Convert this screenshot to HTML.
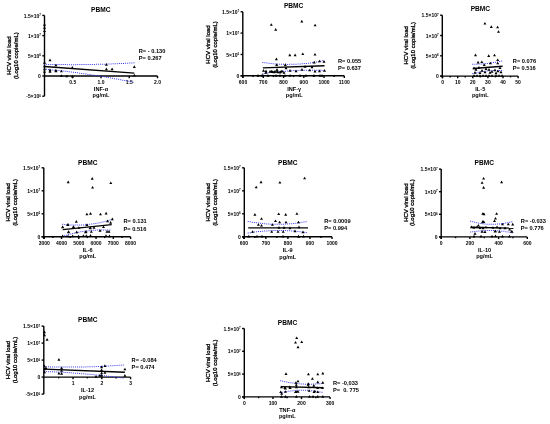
<!DOCTYPE html>
<html><head><meta charset="utf-8"><style>
html,body{margin:0;padding:0;background:#fff;}
svg{display:block;will-change:transform;}
text{font-family:"Liberation Sans", sans-serif;fill:#000;}
</style></head><body>
<svg width="550" height="424" viewBox="0 0 550 424">
<rect width="550" height="424" fill="#fff"/>
<g stroke="#000" stroke-width="1.4" fill="none"><line x1="44.5" y1="15.40" x2="44.5" y2="96.20" /><line x1="42.3" y1="96.20" x2="44.5" y2="96.20" /><line x1="42.3" y1="76.00" x2="44.5" y2="76.00" /><line x1="42.3" y1="55.80" x2="44.5" y2="55.80" /><line x1="42.3" y1="35.60" x2="44.5" y2="35.60" /><line x1="42.3" y1="15.40" x2="44.5" y2="15.40" /><line x1="44.5" y1="76.0" x2="157.50" y2="76.0" /><line x1="72.75" y1="76.0" x2="72.75" y2="78.20" /><line x1="101.00" y1="76.0" x2="101.00" y2="78.20" /><line x1="129.25" y1="76.0" x2="129.25" y2="78.20" /><line x1="157.50" y1="76.0" x2="157.50" y2="78.20" /></g>
<text x="40.90" y="98.30" text-anchor="end" font-size="5.0" font-weight="bold">-5×10<tspan dy="-1.6" font-size="3">6</tspan></text><text x="40.90" y="78.10" text-anchor="end" font-size="5.0" font-weight="bold">0</text><text x="40.90" y="57.90" text-anchor="end" font-size="5.0" font-weight="bold">5×10<tspan dy="-1.6" font-size="3">6</tspan></text><text x="40.90" y="37.70" text-anchor="end" font-size="5.0" font-weight="bold">1×10<tspan dy="-1.6" font-size="3">7</tspan></text><text x="40.90" y="17.50" text-anchor="end" font-size="5.0" font-weight="bold">1.5×10<tspan dy="-1.6" font-size="3">7</tspan></text><text x="72.75" y="84.00" text-anchor="middle" font-size="5.0" font-weight="bold">0.5</text><text x="101.00" y="84.00" text-anchor="middle" font-size="5.0" font-weight="bold">1.0</text><text x="129.25" y="84.00" text-anchor="middle" font-size="5.0" font-weight="bold">1.5</text><text x="157.50" y="84.00" text-anchor="middle" font-size="5.0" font-weight="bold">2.0</text>
<text x="100.7" y="11.6" text-anchor="middle" font-size="6.6" font-weight="bold">PBMC</text>
<text transform="translate(11.4,55.6) rotate(-90)" text-anchor="middle" font-size="6.0" stroke="#000" stroke-width="0.3">HCV viral load</text>
<text transform="translate(18.0,55.6) rotate(-90)" text-anchor="middle" font-size="6.0" stroke="#000" stroke-width="0.3">(Log10 copie/mL)</text>
<text x="101.0" y="91.0" text-anchor="middle" font-size="5.6" font-weight="bold">INF-α</text>
<text x="101.0" y="97.1" text-anchor="middle" font-size="5.6" font-weight="bold">pg/mL</text>
<text x="138.7" y="52.9" font-size="5.7" font-weight="bold">R= - 0.130</text>
<text x="138.7" y="60.2" font-size="5.7" font-weight="bold">P= 0.267</text>
<path fill="#3535ee" d="M44.00,63.79h1.0v1.0h-1.0zM46.08,63.83h1.0v1.0h-1.0zM48.16,63.88h1.0v1.0h-1.0zM50.24,63.93h1.0v1.0h-1.0zM52.32,63.97h1.0v1.0h-1.0zM54.40,64.00h1.0v1.0h-1.0zM56.48,64.03h1.0v1.0h-1.0zM58.56,64.06h1.0v1.0h-1.0zM60.64,64.08h1.0v1.0h-1.0zM62.72,64.10h1.0v1.0h-1.0zM64.80,64.12h1.0v1.0h-1.0zM66.88,64.13h1.0v1.0h-1.0zM68.96,64.13h1.0v1.0h-1.0zM71.04,64.14h1.0v1.0h-1.0zM73.12,64.14h1.0v1.0h-1.0zM75.20,64.13h1.0v1.0h-1.0zM77.28,64.12h1.0v1.0h-1.0zM79.36,64.11h1.0v1.0h-1.0zM81.44,64.09h1.0v1.0h-1.0zM83.52,64.07h1.0v1.0h-1.0zM85.60,64.04h1.0v1.0h-1.0zM87.68,64.01h1.0v1.0h-1.0zM89.76,63.98h1.0v1.0h-1.0zM91.84,63.94h1.0v1.0h-1.0zM93.92,63.90h1.0v1.0h-1.0zM95.99,63.85h1.0v1.0h-1.0zM98.07,63.80h1.0v1.0h-1.0zM100.15,63.75h1.0v1.0h-1.0zM102.23,63.69h1.0v1.0h-1.0zM104.31,63.63h1.0v1.0h-1.0zM106.39,63.56h1.0v1.0h-1.0zM108.47,63.49h1.0v1.0h-1.0zM110.55,63.42h1.0v1.0h-1.0zM112.63,63.34h1.0v1.0h-1.0zM114.70,63.26h1.0v1.0h-1.0zM116.78,63.17h1.0v1.0h-1.0zM118.86,63.08h1.0v1.0h-1.0zM120.94,62.98h1.0v1.0h-1.0zM123.02,62.88h1.0v1.0h-1.0zM125.09,62.78h1.0v1.0h-1.0zM127.17,62.68h1.0v1.0h-1.0zM129.25,62.57h1.0v1.0h-1.0zM131.33,62.45h1.0v1.0h-1.0zM133.40,62.33h1.0v1.0h-1.0z"/>
<path fill="#3535ee" d="M44.00,68.65h1.0v1.0h-1.0zM46.07,68.84h1.0v1.0h-1.0zM48.14,69.04h1.0v1.0h-1.0zM50.21,69.25h1.0v1.0h-1.0zM52.28,69.45h1.0v1.0h-1.0zM54.35,69.67h1.0v1.0h-1.0zM56.42,69.89h1.0v1.0h-1.0zM58.49,70.11h1.0v1.0h-1.0zM60.55,70.34h1.0v1.0h-1.0zM62.62,70.58h1.0v1.0h-1.0zM64.69,70.82h1.0v1.0h-1.0zM66.75,71.06h1.0v1.0h-1.0zM68.82,71.31h1.0v1.0h-1.0zM70.88,71.57h1.0v1.0h-1.0zM72.94,71.83h1.0v1.0h-1.0zM75.01,72.10h1.0v1.0h-1.0zM77.07,72.37h1.0v1.0h-1.0zM79.13,72.64h1.0v1.0h-1.0zM81.19,72.93h1.0v1.0h-1.0zM83.25,73.21h1.0v1.0h-1.0zM85.31,73.51h1.0v1.0h-1.0zM87.37,73.80h1.0v1.0h-1.0zM89.43,74.10h1.0v1.0h-1.0zM91.48,74.41h1.0v1.0h-1.0zM93.54,74.72h1.0v1.0h-1.0zM95.60,75.04h1.0v1.0h-1.0zM97.65,75.36h1.0v1.0h-1.0zM99.71,75.70h1.0v1.0h-1.0zM101.76,76.03h1.0v1.0h-1.0zM103.81,76.37h1.0v1.0h-1.0zM105.86,76.71h1.0v1.0h-1.0zM107.91,77.06h1.0v1.0h-1.0zM109.96,77.41h1.0v1.0h-1.0zM112.01,77.77h1.0v1.0h-1.0zM114.06,78.13h1.0v1.0h-1.0zM116.11,78.50h1.0v1.0h-1.0zM118.15,78.87h1.0v1.0h-1.0zM120.20,79.25h1.0v1.0h-1.0zM122.24,79.64h1.0v1.0h-1.0zM124.29,80.02h1.0v1.0h-1.0zM126.33,80.42h1.0v1.0h-1.0zM128.37,80.82h1.0v1.0h-1.0zM130.41,81.22h1.0v1.0h-1.0zM132.45,81.63h1.0v1.0h-1.0z"/>
<line x1="44.5" y1="66.5" x2="134.3" y2="73.1" stroke="#000" stroke-width="1.4"/>
<path fill="#000" d="M43.00,25.67h3.00l-1.50,-2.60zM43.00,28.87h3.00l-1.50,-2.60zM43.00,32.07h3.00l-1.50,-2.60zM43.00,63.67h3.00l-1.50,-2.60zM43.00,67.17h3.00l-1.50,-2.60zM43.00,70.17h3.00l-1.50,-2.60zM43.00,72.67h3.00l-1.50,-2.60zM48.50,61.17h3.00l-1.50,-2.60zM48.50,71.17h3.00l-1.50,-2.60zM48.50,72.67h3.00l-1.50,-2.60zM54.40,66.37h3.00l-1.50,-2.60zM54.40,71.47h3.00l-1.50,-2.60zM54.40,72.17h3.00l-1.50,-2.60zM59.90,72.27h3.00l-1.50,-2.60zM59.90,76.97h3.00l-1.50,-2.60zM65.30,77.27h3.00l-1.50,-2.60zM70.80,68.67h3.00l-1.50,-2.60zM70.80,77.47h3.00l-1.50,-2.60zM104.90,65.67h3.00l-1.50,-2.60zM104.90,70.17h3.00l-1.50,-2.60zM110.60,70.17h3.00l-1.50,-2.60zM132.80,67.97h3.00l-1.50,-2.60zM132.80,76.47h3.00l-1.50,-2.60z"/>
<g stroke="#000" stroke-width="1.4" fill="none"><line x1="242.8" y1="11.75" x2="242.8" y2="78.00" /><line x1="240.60000000000002" y1="75.80" x2="242.8" y2="75.80" /><line x1="240.60000000000002" y1="54.45" x2="242.8" y2="54.45" /><line x1="240.60000000000002" y1="33.10" x2="242.8" y2="33.10" /><line x1="240.60000000000002" y1="11.75" x2="242.8" y2="11.75" /><line x1="240.60000000000002" y1="75.8" x2="344.30" y2="75.8" /><line x1="243.00" y1="75.8" x2="243.00" y2="78.00" /><line x1="263.26" y1="75.8" x2="263.26" y2="78.00" /><line x1="283.52" y1="75.8" x2="283.52" y2="78.00" /><line x1="303.78" y1="75.8" x2="303.78" y2="78.00" /><line x1="324.04" y1="75.8" x2="324.04" y2="78.00" /><line x1="344.30" y1="75.8" x2="344.30" y2="78.00" /><line x1="253.13" y1="75.8" x2="253.13" y2="77.10" /><line x1="273.39" y1="75.8" x2="273.39" y2="77.10" /><line x1="293.65" y1="75.8" x2="293.65" y2="77.10" /><line x1="313.91" y1="75.8" x2="313.91" y2="77.10" /><line x1="334.17" y1="75.8" x2="334.17" y2="77.10" /></g>
<text x="239.20" y="77.90" text-anchor="end" font-size="5.0" font-weight="bold">0</text><text x="239.20" y="56.55" text-anchor="end" font-size="5.0" font-weight="bold">5×10<tspan dy="-1.6" font-size="3">6</tspan></text><text x="239.20" y="35.20" text-anchor="end" font-size="5.0" font-weight="bold">1×10<tspan dy="-1.6" font-size="3">7</tspan></text><text x="239.20" y="13.85" text-anchor="end" font-size="5.0" font-weight="bold">1.5×10<tspan dy="-1.6" font-size="3">7</tspan></text><text x="243.00" y="83.80" text-anchor="middle" font-size="5.0" font-weight="bold">600</text><text x="263.26" y="83.80" text-anchor="middle" font-size="5.0" font-weight="bold">700</text><text x="283.52" y="83.80" text-anchor="middle" font-size="5.0" font-weight="bold">800</text><text x="303.78" y="83.80" text-anchor="middle" font-size="5.0" font-weight="bold">900</text><text x="324.04" y="83.80" text-anchor="middle" font-size="5.0" font-weight="bold">1000</text><text x="344.30" y="83.80" text-anchor="middle" font-size="5.0" font-weight="bold">1100</text>
<text x="293.6" y="8.4" text-anchor="middle" font-size="6.6" font-weight="bold">PBMC</text>
<text transform="translate(209.5,44.5) rotate(-90)" text-anchor="middle" font-size="6.0" stroke="#000" stroke-width="0.3">HCV viral load</text>
<text transform="translate(217.2,44.5) rotate(-90)" text-anchor="middle" font-size="6.0" stroke="#000" stroke-width="0.3">(Log10 copie/mL)</text>
<text x="294.2" y="91.0" text-anchor="middle" font-size="5.6" font-weight="bold">INF-γ</text>
<text x="294.2" y="97.1" text-anchor="middle" font-size="5.6" font-weight="bold">pg/mL</text>
<text x="338.0" y="62.6" font-size="5.7" font-weight="bold">R= 0.055</text>
<text x="338.0" y="69.7" font-size="5.7" font-weight="bold">P= 0.637</text>
<path fill="#3535ee" d="M262.30,62.08h1.0v1.0h-1.0zM264.36,62.36h1.0v1.0h-1.0zM266.42,62.62h1.0v1.0h-1.0zM268.49,62.86h1.0v1.0h-1.0zM270.56,63.07h1.0v1.0h-1.0zM272.63,63.26h1.0v1.0h-1.0zM274.71,63.42h1.0v1.0h-1.0zM276.78,63.56h1.0v1.0h-1.0zM278.86,63.67h1.0v1.0h-1.0zM280.94,63.76h1.0v1.0h-1.0zM283.01,63.82h1.0v1.0h-1.0zM285.09,63.86h1.0v1.0h-1.0zM287.17,63.88h1.0v1.0h-1.0zM289.25,63.87h1.0v1.0h-1.0zM291.33,63.83h1.0v1.0h-1.0zM293.41,63.77h1.0v1.0h-1.0zM295.49,63.69h1.0v1.0h-1.0zM297.57,63.58h1.0v1.0h-1.0zM299.64,63.45h1.0v1.0h-1.0zM301.72,63.28h1.0v1.0h-1.0zM303.79,63.10h1.0v1.0h-1.0zM305.86,62.89h1.0v1.0h-1.0zM307.93,62.66h1.0v1.0h-1.0zM309.99,62.40h1.0v1.0h-1.0zM312.05,62.13h1.0v1.0h-1.0zM314.11,61.82h1.0v1.0h-1.0zM316.16,61.49h1.0v1.0h-1.0zM318.21,61.14h1.0v1.0h-1.0zM320.26,60.77h1.0v1.0h-1.0zM322.30,60.36h1.0v1.0h-1.0z"/>
<path fill="#3535ee" d="M262.30,73.19h1.0v1.0h-1.0zM264.36,72.90h1.0v1.0h-1.0zM266.42,72.62h1.0v1.0h-1.0zM268.48,72.34h1.0v1.0h-1.0zM270.55,72.09h1.0v1.0h-1.0zM272.61,71.85h1.0v1.0h-1.0zM274.68,71.61h1.0v1.0h-1.0zM276.75,71.39h1.0v1.0h-1.0zM278.82,71.19h1.0v1.0h-1.0zM280.89,70.99h1.0v1.0h-1.0zM282.96,70.82h1.0v1.0h-1.0zM285.03,70.65h1.0v1.0h-1.0zM287.11,70.49h1.0v1.0h-1.0zM289.18,70.36h1.0v1.0h-1.0zM291.26,70.23h1.0v1.0h-1.0zM293.34,70.11h1.0v1.0h-1.0zM295.41,70.02h1.0v1.0h-1.0zM297.49,69.93h1.0v1.0h-1.0zM299.57,69.85h1.0v1.0h-1.0zM301.65,69.80h1.0v1.0h-1.0zM303.73,69.75h1.0v1.0h-1.0zM305.81,69.71h1.0v1.0h-1.0zM307.89,69.69h1.0v1.0h-1.0zM309.97,69.69h1.0v1.0h-1.0zM312.05,69.69h1.0v1.0h-1.0zM314.13,69.71h1.0v1.0h-1.0zM316.21,69.75h1.0v1.0h-1.0zM318.29,69.79h1.0v1.0h-1.0zM320.37,69.85h1.0v1.0h-1.0zM322.45,69.93h1.0v1.0h-1.0z"/>
<line x1="262.8" y1="67.9" x2="324.5" y2="65.7" stroke="#000" stroke-width="1.4"/>
<path fill="#000" d="M269.80,25.87h3.00l-1.50,-2.60zM274.20,30.67h3.00l-1.50,-2.60zM300.30,22.47h3.00l-1.50,-2.60zM313.60,26.37h3.00l-1.50,-2.60zM288.30,56.17h3.00l-1.50,-2.60zM293.60,56.17h3.00l-1.50,-2.60zM301.30,55.07h3.00l-1.50,-2.60zM313.50,55.57h3.00l-1.50,-2.60zM274.90,60.17h3.00l-1.50,-2.60zM275.20,65.97h3.00l-1.50,-2.60zM283.80,65.97h3.00l-1.50,-2.60zM312.70,63.47h3.00l-1.50,-2.60zM318.00,62.27h3.00l-1.50,-2.60zM322.50,62.67h3.00l-1.50,-2.60zM262.00,71.67h3.00l-1.50,-2.60zM264.50,72.17h3.00l-1.50,-2.60zM269.90,72.47h3.00l-1.50,-2.60zM272.50,73.17h3.00l-1.50,-2.60zM275.50,72.67h3.00l-1.50,-2.60zM278.50,73.47h3.00l-1.50,-2.60zM280.50,72.17h3.00l-1.50,-2.60zM288.50,71.67h3.00l-1.50,-2.60zM294.50,72.17h3.00l-1.50,-2.60zM300.50,70.67h3.00l-1.50,-2.60zM308.20,71.27h3.00l-1.50,-2.60zM313.50,72.47h3.00l-1.50,-2.60zM318.00,72.17h3.00l-1.50,-2.60zM323.00,71.67h3.00l-1.50,-2.60zM310.50,68.17h3.00l-1.50,-2.60zM303.50,67.67h3.00l-1.50,-2.60zM284.50,69.17h3.00l-1.50,-2.60zM256.50,76.67h3.00l-1.50,-2.60zM260.50,76.67h3.00l-1.50,-2.60zM266.50,76.67h3.00l-1.50,-2.60zM274.50,76.67h3.00l-1.50,-2.60zM278.50,76.67h3.00l-1.50,-2.60zM283.50,76.67h3.00l-1.50,-2.60zM288.50,76.67h3.00l-1.50,-2.60zM298.50,76.67h3.00l-1.50,-2.60zM304.50,76.67h3.00l-1.50,-2.60zM312.50,76.67h3.00l-1.50,-2.60zM318.50,76.67h3.00l-1.50,-2.60zM320.50,76.67h3.00l-1.50,-2.60zM261.50,76.67h3.00l-1.50,-2.60zM268.50,72.67h3.00l-1.50,-2.60zM271.00,72.97h3.00l-1.50,-2.60zM273.50,72.67h3.00l-1.50,-2.60zM276.50,73.17h3.00l-1.50,-2.60zM279.50,72.77h3.00l-1.50,-2.60zM282.50,73.67h3.00l-1.50,-2.60zM264.50,73.67h3.00l-1.50,-2.60zM275.50,70.67h3.00l-1.50,-2.60z"/>
<g stroke="#000" stroke-width="1.4" fill="none"><line x1="442.3" y1="15.20" x2="442.3" y2="78.30" /><line x1="440.1" y1="76.10" x2="442.3" y2="76.10" /><line x1="440.1" y1="55.80" x2="442.3" y2="55.80" /><line x1="440.1" y1="35.50" x2="442.3" y2="35.50" /><line x1="440.1" y1="15.20" x2="442.3" y2="15.20" /><line x1="440.1" y1="76.1" x2="518.10" y2="76.1" /><line x1="442.60" y1="76.1" x2="442.60" y2="78.30" /><line x1="457.70" y1="76.1" x2="457.70" y2="78.30" /><line x1="472.80" y1="76.1" x2="472.80" y2="78.30" /><line x1="487.90" y1="76.1" x2="487.90" y2="78.30" /><line x1="503.00" y1="76.1" x2="503.00" y2="78.30" /><line x1="518.10" y1="76.1" x2="518.10" y2="78.30" /><line x1="450.15" y1="76.1" x2="450.15" y2="77.40" /><line x1="465.25" y1="76.1" x2="465.25" y2="77.40" /><line x1="480.35" y1="76.1" x2="480.35" y2="77.40" /><line x1="495.45" y1="76.1" x2="495.45" y2="77.40" /><line x1="510.55" y1="76.1" x2="510.55" y2="77.40" /></g>
<text x="438.70" y="78.20" text-anchor="end" font-size="5.0" font-weight="bold">0</text><text x="438.70" y="57.90" text-anchor="end" font-size="5.0" font-weight="bold">5×10<tspan dy="-1.6" font-size="3">6</tspan></text><text x="438.70" y="37.60" text-anchor="end" font-size="5.0" font-weight="bold">1×10<tspan dy="-1.6" font-size="3">7</tspan></text><text x="438.70" y="17.30" text-anchor="end" font-size="5.0" font-weight="bold">1.5×10<tspan dy="-1.6" font-size="3">7</tspan></text><text x="442.60" y="84.10" text-anchor="middle" font-size="5.0" font-weight="bold">0</text><text x="457.70" y="84.10" text-anchor="middle" font-size="5.0" font-weight="bold">10</text><text x="472.80" y="84.10" text-anchor="middle" font-size="5.0" font-weight="bold">20</text><text x="487.90" y="84.10" text-anchor="middle" font-size="5.0" font-weight="bold">30</text><text x="503.00" y="84.10" text-anchor="middle" font-size="5.0" font-weight="bold">40</text><text x="518.10" y="84.10" text-anchor="middle" font-size="5.0" font-weight="bold">50</text>
<text x="480.4" y="10.6" text-anchor="middle" font-size="6.6" font-weight="bold">PBMC</text>
<text transform="translate(407.8,45.3) rotate(-90)" text-anchor="middle" font-size="6.0" stroke="#000" stroke-width="0.3">HCV viral load</text>
<text transform="translate(415.2,45.3) rotate(-90)" text-anchor="middle" font-size="6.0" stroke="#000" stroke-width="0.3">(Log10 copie/mL)</text>
<text x="480.3" y="91.0" text-anchor="middle" font-size="5.6" font-weight="bold">IL-5</text>
<text x="480.3" y="97.3" text-anchor="middle" font-size="5.6" font-weight="bold">pg/mL</text>
<text x="512.8" y="62.7" font-size="5.7" font-weight="bold">R= 0.076</text>
<text x="512.8" y="69.5" font-size="5.7" font-weight="bold">P= 0.516</text>
<path fill="#3535ee" d="M472.30,63.70h1.0v1.0h-1.0zM474.38,63.70h1.0v1.0h-1.0zM476.46,63.67h1.0v1.0h-1.0zM478.54,63.60h1.0v1.0h-1.0zM480.62,63.49h1.0v1.0h-1.0zM482.69,63.35h1.0v1.0h-1.0zM484.76,63.17h1.0v1.0h-1.0zM486.83,62.96h1.0v1.0h-1.0zM488.90,62.72h1.0v1.0h-1.0zM490.96,62.43h1.0v1.0h-1.0zM493.01,62.12h1.0v1.0h-1.0zM495.06,61.77h1.0v1.0h-1.0zM497.11,61.38h1.0v1.0h-1.0zM499.15,60.97h1.0v1.0h-1.0zM501.18,60.51h1.0v1.0h-1.0z"/>
<path fill="#3535ee" d="M472.30,73.10h1.0v1.0h-1.0zM474.32,72.60h1.0v1.0h-1.0zM476.35,72.14h1.0v1.0h-1.0zM478.39,71.73h1.0v1.0h-1.0zM480.43,71.35h1.0v1.0h-1.0zM482.49,71.02h1.0v1.0h-1.0zM484.55,70.73h1.0v1.0h-1.0zM486.61,70.49h1.0v1.0h-1.0zM488.68,70.29h1.0v1.0h-1.0zM490.76,70.14h1.0v1.0h-1.0zM492.83,70.03h1.0v1.0h-1.0zM494.91,69.97h1.0v1.0h-1.0zM496.99,69.95h1.0v1.0h-1.0zM499.07,69.98h1.0v1.0h-1.0zM501.15,70.05h1.0v1.0h-1.0z"/>
<line x1="472.8" y1="68.5" x2="502.6" y2="66.2" stroke="#000" stroke-width="1.4"/>
<path fill="#000" d="M483.40,24.57h3.00l-1.50,-2.60zM489.80,27.97h3.00l-1.50,-2.60zM496.10,28.37h3.00l-1.50,-2.60zM497.00,32.77h3.00l-1.50,-2.60zM474.00,56.17h3.00l-1.50,-2.60zM487.20,56.97h3.00l-1.50,-2.60zM493.00,56.37h3.00l-1.50,-2.60zM476.60,63.47h3.00l-1.50,-2.60zM480.30,63.07h3.00l-1.50,-2.60zM482.70,65.97h3.00l-1.50,-2.60zM488.90,64.27h3.00l-1.50,-2.60zM496.20,61.07h3.00l-1.50,-2.60zM496.20,64.27h3.00l-1.50,-2.60zM472.50,69.17h3.00l-1.50,-2.60zM474.50,70.67h3.00l-1.50,-2.60zM477.50,68.67h3.00l-1.50,-2.60zM480.50,71.67h3.00l-1.50,-2.60zM484.50,69.97h3.00l-1.50,-2.60zM487.50,70.67h3.00l-1.50,-2.60zM490.50,72.67h3.00l-1.50,-2.60zM493.50,71.17h3.00l-1.50,-2.60zM496.50,72.17h3.00l-1.50,-2.60zM499.50,73.17h3.00l-1.50,-2.60zM498.50,68.97h3.00l-1.50,-2.60zM473.50,73.67h3.00l-1.50,-2.60zM478.50,73.97h3.00l-1.50,-2.60zM483.50,73.17h3.00l-1.50,-2.60zM488.50,73.67h3.00l-1.50,-2.60zM494.50,74.17h3.00l-1.50,-2.60zM472.50,76.77h3.00l-1.50,-2.60zM475.50,76.77h3.00l-1.50,-2.60zM478.50,76.77h3.00l-1.50,-2.60zM481.50,76.77h3.00l-1.50,-2.60zM484.50,76.77h3.00l-1.50,-2.60zM487.50,76.77h3.00l-1.50,-2.60zM490.50,76.77h3.00l-1.50,-2.60zM494.50,76.77h3.00l-1.50,-2.60zM497.50,76.77h3.00l-1.50,-2.60zM500.50,76.77h3.00l-1.50,-2.60z"/>
<g stroke="#000" stroke-width="1.4" fill="none"><line x1="43.8" y1="167.80" x2="43.8" y2="239.00" /><line x1="41.599999999999994" y1="236.80" x2="43.8" y2="236.80" /><line x1="41.599999999999994" y1="213.80" x2="43.8" y2="213.80" /><line x1="41.599999999999994" y1="190.80" x2="43.8" y2="190.80" /><line x1="41.599999999999994" y1="167.80" x2="43.8" y2="167.80" /><line x1="41.599999999999994" y1="236.8" x2="130.60" y2="236.8" /><line x1="44.20" y1="236.8" x2="44.20" y2="239.00" /><line x1="61.48" y1="236.8" x2="61.48" y2="239.00" /><line x1="78.76" y1="236.8" x2="78.76" y2="239.00" /><line x1="96.04" y1="236.8" x2="96.04" y2="239.00" /><line x1="113.32" y1="236.8" x2="113.32" y2="239.00" /><line x1="130.60" y1="236.8" x2="130.60" y2="239.00" /><line x1="52.84" y1="236.8" x2="52.84" y2="238.10" /><line x1="70.12" y1="236.8" x2="70.12" y2="238.10" /><line x1="87.40" y1="236.8" x2="87.40" y2="238.10" /><line x1="104.68" y1="236.8" x2="104.68" y2="238.10" /><line x1="121.96" y1="236.8" x2="121.96" y2="238.10" /></g>
<text x="40.20" y="238.90" text-anchor="end" font-size="5.0" font-weight="bold">0</text><text x="40.20" y="215.90" text-anchor="end" font-size="5.0" font-weight="bold">5×10<tspan dy="-1.6" font-size="3">6</tspan></text><text x="40.20" y="192.90" text-anchor="end" font-size="5.0" font-weight="bold">1×10<tspan dy="-1.6" font-size="3">7</tspan></text><text x="40.20" y="169.90" text-anchor="end" font-size="5.0" font-weight="bold">1.5×10<tspan dy="-1.6" font-size="3">7</tspan></text><text x="44.20" y="244.80" text-anchor="middle" font-size="5.0" font-weight="bold">3000</text><text x="61.48" y="244.80" text-anchor="middle" font-size="5.0" font-weight="bold">4000</text><text x="78.76" y="244.80" text-anchor="middle" font-size="5.0" font-weight="bold">5000</text><text x="96.04" y="244.80" text-anchor="middle" font-size="5.0" font-weight="bold">6000</text><text x="113.32" y="244.80" text-anchor="middle" font-size="5.0" font-weight="bold">7000</text><text x="130.60" y="244.80" text-anchor="middle" font-size="5.0" font-weight="bold">8000</text>
<text x="87.7" y="164.9" text-anchor="middle" font-size="6.6" font-weight="bold">PBMC</text>
<text transform="translate(10.4,202.3) rotate(-90)" text-anchor="middle" font-size="6.0" stroke="#000" stroke-width="0.3">HCV viral load</text>
<text transform="translate(17.3,202.3) rotate(-90)" text-anchor="middle" font-size="6.0" stroke="#000" stroke-width="0.3">(Log10 copie/mL)</text>
<text x="87.7" y="252.4" text-anchor="middle" font-size="5.6" font-weight="bold">IL-6</text>
<text x="87.7" y="258.3" text-anchor="middle" font-size="5.6" font-weight="bold">pg/mL</text>
<text x="123.5" y="222.9" font-size="5.7" font-weight="bold">R= 0.131</text>
<text x="123.5" y="230.9" font-size="5.7" font-weight="bold">P= 0.516</text>
<path fill="#3535ee" d="M62.20,223.80h1.0v1.0h-1.0zM64.27,224.03h1.0v1.0h-1.0zM66.34,224.22h1.0v1.0h-1.0zM68.41,224.38h1.0v1.0h-1.0zM70.49,224.49h1.0v1.0h-1.0zM72.57,224.58h1.0v1.0h-1.0zM74.65,224.62h1.0v1.0h-1.0zM76.73,224.62h1.0v1.0h-1.0zM78.81,224.59h1.0v1.0h-1.0zM80.89,224.51h1.0v1.0h-1.0zM82.96,224.40h1.0v1.0h-1.0zM85.04,224.25h1.0v1.0h-1.0zM87.11,224.07h1.0v1.0h-1.0zM89.18,223.85h1.0v1.0h-1.0zM91.24,223.58h1.0v1.0h-1.0zM93.30,223.28h1.0v1.0h-1.0zM95.35,222.94h1.0v1.0h-1.0zM97.40,222.57h1.0v1.0h-1.0zM99.44,222.17h1.0v1.0h-1.0zM101.47,221.73h1.0v1.0h-1.0zM103.49,221.25h1.0v1.0h-1.0zM105.51,220.73h1.0v1.0h-1.0zM107.52,220.19h1.0v1.0h-1.0zM109.51,219.61h1.0v1.0h-1.0z"/>
<path fill="#3535ee" d="M62.20,235.90h1.0v1.0h-1.0zM64.19,235.28h1.0v1.0h-1.0zM66.18,234.69h1.0v1.0h-1.0zM68.18,234.12h1.0v1.0h-1.0zM70.19,233.58h1.0v1.0h-1.0zM72.21,233.08h1.0v1.0h-1.0zM74.23,232.60h1.0v1.0h-1.0zM76.27,232.16h1.0v1.0h-1.0zM78.30,231.75h1.0v1.0h-1.0zM80.35,231.37h1.0v1.0h-1.0zM82.40,231.02h1.0v1.0h-1.0zM84.46,230.71h1.0v1.0h-1.0zM86.52,230.43h1.0v1.0h-1.0zM88.58,230.18h1.0v1.0h-1.0zM90.65,229.97h1.0v1.0h-1.0zM92.72,229.79h1.0v1.0h-1.0zM94.80,229.64h1.0v1.0h-1.0zM96.87,229.53h1.0v1.0h-1.0zM98.95,229.45h1.0v1.0h-1.0zM101.03,229.41h1.0v1.0h-1.0zM103.11,229.41h1.0v1.0h-1.0zM105.19,229.43h1.0v1.0h-1.0zM107.27,229.50h1.0v1.0h-1.0zM109.35,229.59h1.0v1.0h-1.0z"/>
<line x1="62.7" y1="229.6" x2="111.7" y2="224.6" stroke="#000" stroke-width="1.4"/>
<path fill="#000" d="M66.70,183.17h3.00l-1.50,-2.60zM90.70,179.67h3.00l-1.50,-2.60zM91.10,188.57h3.00l-1.50,-2.60zM109.30,184.07h3.00l-1.50,-2.60zM85.40,215.37h3.00l-1.50,-2.60zM89.00,214.67h3.00l-1.50,-2.60zM99.00,215.37h3.00l-1.50,-2.60zM104.60,214.47h3.00l-1.50,-2.60zM74.80,222.67h3.00l-1.50,-2.60zM66.50,225.67h3.00l-1.50,-2.60zM110.80,220.17h3.00l-1.50,-2.60zM106.10,222.17h3.00l-1.50,-2.60zM109.10,223.67h3.00l-1.50,-2.60zM61.20,228.07h3.00l-1.50,-2.60zM71.80,228.07h3.00l-1.50,-2.60zM102.00,228.07h3.00l-1.50,-2.60zM88.50,229.17h3.00l-1.50,-2.60zM92.50,228.67h3.00l-1.50,-2.60zM98.50,231.67h3.00l-1.50,-2.60zM84.50,232.67h3.00l-1.50,-2.60zM105.50,232.67h3.00l-1.50,-2.60zM107.50,232.67h3.00l-1.50,-2.60zM67.10,232.77h3.00l-1.50,-2.60zM61.00,228.17h3.00l-1.50,-2.60zM66.10,225.97h3.00l-1.50,-2.60zM72.00,227.77h3.00l-1.50,-2.60zM75.20,233.17h3.00l-1.50,-2.60zM66.90,233.17h3.00l-1.50,-2.60zM77.40,228.87h3.00l-1.50,-2.60zM85.40,225.97h3.00l-1.50,-2.60zM84.00,233.17h3.00l-1.50,-2.60zM89.00,229.17h3.00l-1.50,-2.60zM89.80,232.87h3.00l-1.50,-2.60zM61.20,237.17h3.00l-1.50,-2.60zM66.50,237.37h3.00l-1.50,-2.60zM71.20,237.17h3.00l-1.50,-2.60zM77.10,237.37h3.00l-1.50,-2.60zM81.90,236.97h3.00l-1.50,-2.60zM84.80,236.97h3.00l-1.50,-2.60zM89.00,236.67h3.00l-1.50,-2.60zM104.50,236.97h3.00l-1.50,-2.60zM108.00,237.17h3.00l-1.50,-2.60z"/>
<g stroke="#000" stroke-width="1.4" fill="none"><line x1="244.3" y1="167.80" x2="244.3" y2="239.00" /><line x1="242.10000000000002" y1="236.80" x2="244.3" y2="236.80" /><line x1="242.10000000000002" y1="213.80" x2="244.3" y2="213.80" /><line x1="242.10000000000002" y1="190.80" x2="244.3" y2="190.80" /><line x1="242.10000000000002" y1="167.80" x2="244.3" y2="167.80" /><line x1="242.10000000000002" y1="236.8" x2="332.00" y2="236.8" /><line x1="243.80" y1="236.8" x2="243.80" y2="239.00" /><line x1="265.85" y1="236.8" x2="265.85" y2="239.00" /><line x1="287.90" y1="236.8" x2="287.90" y2="239.00" /><line x1="309.95" y1="236.8" x2="309.95" y2="239.00" /><line x1="332.00" y1="236.8" x2="332.00" y2="239.00" /><line x1="254.83" y1="236.8" x2="254.83" y2="238.10" /><line x1="276.88" y1="236.8" x2="276.88" y2="238.10" /><line x1="298.93" y1="236.8" x2="298.93" y2="238.10" /><line x1="320.98" y1="236.8" x2="320.98" y2="238.10" /></g>
<text x="240.70" y="238.90" text-anchor="end" font-size="5.0" font-weight="bold">0</text><text x="240.70" y="215.90" text-anchor="end" font-size="5.0" font-weight="bold">5×10<tspan dy="-1.6" font-size="3">6</tspan></text><text x="240.70" y="192.90" text-anchor="end" font-size="5.0" font-weight="bold">1×10<tspan dy="-1.6" font-size="3">7</tspan></text><text x="240.70" y="169.90" text-anchor="end" font-size="5.0" font-weight="bold">1.5×10<tspan dy="-1.6" font-size="3">7</tspan></text><text x="243.80" y="244.80" text-anchor="middle" font-size="5.0" font-weight="bold">600</text><text x="265.85" y="244.80" text-anchor="middle" font-size="5.0" font-weight="bold">700</text><text x="287.90" y="244.80" text-anchor="middle" font-size="5.0" font-weight="bold">800</text><text x="309.95" y="244.80" text-anchor="middle" font-size="5.0" font-weight="bold">900</text><text x="332.00" y="244.80" text-anchor="middle" font-size="5.0" font-weight="bold">1000</text>
<text x="287.7" y="164.9" text-anchor="middle" font-size="6.6" font-weight="bold">PBMC</text>
<text transform="translate(209.6,202.3) rotate(-90)" text-anchor="middle" font-size="6.0" stroke="#000" stroke-width="0.3">HCV viral load</text>
<text transform="translate(217.0,202.3) rotate(-90)" text-anchor="middle" font-size="6.0" stroke="#000" stroke-width="0.3">(Log10 copie/mL)</text>
<text x="287.7" y="251.5" text-anchor="middle" font-size="5.6" font-weight="bold">IL-9</text>
<text x="287.7" y="258.8" text-anchor="middle" font-size="5.6" font-weight="bold">pg/mL</text>
<text x="324.2" y="222.6" font-size="5.7" font-weight="bold">R= 0.0009</text>
<text x="324.2" y="229.7" font-size="5.7" font-weight="bold">P= 0.994</text>
<path fill="#3535ee" d="M247.70,221.00h1.0v1.0h-1.0zM249.75,221.37h1.0v1.0h-1.0zM251.80,221.72h1.0v1.0h-1.0zM253.85,222.05h1.0v1.0h-1.0zM255.91,222.34h1.0v1.0h-1.0zM257.97,222.61h1.0v1.0h-1.0zM260.04,222.86h1.0v1.0h-1.0zM262.11,223.07h1.0v1.0h-1.0zM264.18,223.25h1.0v1.0h-1.0zM266.25,223.42h1.0v1.0h-1.0zM268.33,223.55h1.0v1.0h-1.0zM270.41,223.65h1.0v1.0h-1.0zM272.48,223.73h1.0v1.0h-1.0zM274.56,223.78h1.0v1.0h-1.0zM276.64,223.80h1.0v1.0h-1.0zM278.72,223.79h1.0v1.0h-1.0zM280.80,223.76h1.0v1.0h-1.0zM282.88,223.69h1.0v1.0h-1.0zM284.96,223.59h1.0v1.0h-1.0zM287.04,223.48h1.0v1.0h-1.0zM289.11,223.33h1.0v1.0h-1.0zM291.18,223.15h1.0v1.0h-1.0zM293.25,222.95h1.0v1.0h-1.0zM295.32,222.72h1.0v1.0h-1.0zM297.38,222.46h1.0v1.0h-1.0zM299.44,222.17h1.0v1.0h-1.0zM301.50,221.87h1.0v1.0h-1.0zM303.55,221.52h1.0v1.0h-1.0zM305.60,221.16h1.0v1.0h-1.0z"/>
<path fill="#3535ee" d="M247.70,232.50h1.0v1.0h-1.0zM249.76,232.18h1.0v1.0h-1.0zM251.81,231.88h1.0v1.0h-1.0zM253.87,231.60h1.0v1.0h-1.0zM255.94,231.34h1.0v1.0h-1.0zM258.01,231.11h1.0v1.0h-1.0zM260.07,230.89h1.0v1.0h-1.0zM262.14,230.70h1.0v1.0h-1.0zM264.22,230.53h1.0v1.0h-1.0zM266.29,230.39h1.0v1.0h-1.0zM268.37,230.26h1.0v1.0h-1.0zM270.45,230.17h1.0v1.0h-1.0zM272.53,230.09h1.0v1.0h-1.0zM274.60,230.03h1.0v1.0h-1.0zM276.68,230.00h1.0v1.0h-1.0zM278.76,229.99h1.0v1.0h-1.0zM280.84,230.00h1.0v1.0h-1.0zM282.92,230.04h1.0v1.0h-1.0zM285.00,230.10h1.0v1.0h-1.0zM287.08,230.18h1.0v1.0h-1.0zM289.16,230.29h1.0v1.0h-1.0zM291.23,230.42h1.0v1.0h-1.0zM293.31,230.57h1.0v1.0h-1.0zM295.38,230.74h1.0v1.0h-1.0zM297.45,230.94h1.0v1.0h-1.0zM299.52,231.15h1.0v1.0h-1.0zM301.59,231.39h1.0v1.0h-1.0zM303.65,231.66h1.0v1.0h-1.0zM305.71,231.94h1.0v1.0h-1.0z"/>
<line x1="248.2" y1="227.9" x2="308" y2="227.9" stroke="#000" stroke-width="1.4"/>
<path fill="#000" d="M254.70,188.27h3.00l-1.50,-2.60zM259.50,183.17h3.00l-1.50,-2.60zM278.40,183.57h3.00l-1.50,-2.60zM303.10,179.37h3.00l-1.50,-2.60zM253.40,215.67h3.00l-1.50,-2.60zM277.20,215.07h3.00l-1.50,-2.60zM284.20,215.67h3.00l-1.50,-2.60zM295.40,214.87h3.00l-1.50,-2.60zM260.00,219.87h3.00l-1.50,-2.60zM274.00,222.07h3.00l-1.50,-2.60zM278.10,223.37h3.00l-1.50,-2.60zM284.50,223.37h3.00l-1.50,-2.60zM297.00,223.37h3.00l-1.50,-2.60zM256.90,225.87h3.00l-1.50,-2.60zM260.00,226.57h3.00l-1.50,-2.60zM270.90,225.87h3.00l-1.50,-2.60zM277.50,228.67h3.00l-1.50,-2.60zM282.50,228.67h3.00l-1.50,-2.60zM288.50,229.17h3.00l-1.50,-2.60zM297.50,228.17h3.00l-1.50,-2.60zM251.10,232.87h3.00l-1.50,-2.60zM270.20,232.87h3.00l-1.50,-2.60zM276.50,232.87h3.00l-1.50,-2.60zM281.70,232.87h3.00l-1.50,-2.60zM293.50,232.17h3.00l-1.50,-2.60zM301.50,233.17h3.00l-1.50,-2.60zM247.30,237.47h3.00l-1.50,-2.60zM255.50,237.47h3.00l-1.50,-2.60zM260.50,237.47h3.00l-1.50,-2.60zM281.50,237.47h3.00l-1.50,-2.60zM297.00,237.47h3.00l-1.50,-2.60zM302.00,237.47h3.00l-1.50,-2.60z"/>
<g stroke="#000" stroke-width="1.4" fill="none"><line x1="441.2" y1="169.10" x2="441.2" y2="239.10" /><line x1="439.0" y1="236.90" x2="441.2" y2="236.90" /><line x1="439.0" y1="214.30" x2="441.2" y2="214.30" /><line x1="439.0" y1="191.70" x2="441.2" y2="191.70" /><line x1="439.0" y1="169.10" x2="441.2" y2="169.10" /><line x1="439.0" y1="236.9" x2="527.30" y2="236.9" /><line x1="441.20" y1="236.9" x2="441.20" y2="239.10" /><line x1="469.90" y1="236.9" x2="469.90" y2="239.10" /><line x1="498.60" y1="236.9" x2="498.60" y2="239.10" /><line x1="527.30" y1="236.9" x2="527.30" y2="239.10" /><line x1="455.55" y1="236.9" x2="455.55" y2="238.20" /><line x1="484.25" y1="236.9" x2="484.25" y2="238.20" /><line x1="512.95" y1="236.9" x2="512.95" y2="238.20" /></g>
<text x="437.60" y="239.00" text-anchor="end" font-size="5.0" font-weight="bold">0</text><text x="437.60" y="216.40" text-anchor="end" font-size="5.0" font-weight="bold">5×10<tspan dy="-1.6" font-size="3">6</tspan></text><text x="437.60" y="193.80" text-anchor="end" font-size="5.0" font-weight="bold">1×10<tspan dy="-1.6" font-size="3">7</tspan></text><text x="437.60" y="171.20" text-anchor="end" font-size="5.0" font-weight="bold">1.5×10<tspan dy="-1.6" font-size="3">7</tspan></text><text x="441.20" y="244.90" text-anchor="middle" font-size="5.0" font-weight="bold">0</text><text x="469.90" y="244.90" text-anchor="middle" font-size="5.0" font-weight="bold">200</text><text x="498.60" y="244.90" text-anchor="middle" font-size="5.0" font-weight="bold">400</text><text x="527.30" y="244.90" text-anchor="middle" font-size="5.0" font-weight="bold">600</text>
<text x="484.3" y="164.9" text-anchor="middle" font-size="6.6" font-weight="bold">PBMC</text>
<text transform="translate(408.3,202.7) rotate(-90)" text-anchor="middle" font-size="6.0" stroke="#000" stroke-width="0.3">HCV viral load</text>
<text transform="translate(413.9,202.7) rotate(-90)" text-anchor="middle" font-size="6.0" stroke="#000" stroke-width="0.3">(Log10 copie/mL)</text>
<text x="484.6" y="252.4" text-anchor="middle" font-size="5.6" font-weight="bold">IL-10</text>
<text x="484.6" y="258.3" text-anchor="middle" font-size="5.6" font-weight="bold">pg/mL</text>
<text x="520.8" y="222.9" font-size="5.7" font-weight="bold">R= -0.033</text>
<text x="520.8" y="229.9" font-size="5.7" font-weight="bold">P= 0.776</text>
<path fill="#3535ee" d="M470.20,220.80h1.0v1.0h-1.0zM472.21,221.34h1.0v1.0h-1.0zM474.23,221.83h1.0v1.0h-1.0zM476.26,222.27h1.0v1.0h-1.0zM478.31,222.65h1.0v1.0h-1.0zM480.36,222.98h1.0v1.0h-1.0zM482.42,223.26h1.0v1.0h-1.0zM484.49,223.48h1.0v1.0h-1.0zM486.56,223.64h1.0v1.0h-1.0zM488.64,223.75h1.0v1.0h-1.0zM490.72,223.80h1.0v1.0h-1.0zM492.80,223.80h1.0v1.0h-1.0zM494.88,223.74h1.0v1.0h-1.0zM496.96,223.62h1.0v1.0h-1.0zM499.03,223.44h1.0v1.0h-1.0zM501.09,223.21h1.0v1.0h-1.0zM503.15,222.92h1.0v1.0h-1.0zM505.21,222.57h1.0v1.0h-1.0zM507.25,222.18h1.0v1.0h-1.0zM509.28,221.73h1.0v1.0h-1.0zM511.30,221.23h1.0v1.0h-1.0z"/>
<path fill="#3535ee" d="M470.20,231.50h1.0v1.0h-1.0zM472.26,231.19h1.0v1.0h-1.0zM474.32,230.92h1.0v1.0h-1.0zM476.38,230.68h1.0v1.0h-1.0zM478.45,230.47h1.0v1.0h-1.0zM480.53,230.31h1.0v1.0h-1.0zM482.60,230.18h1.0v1.0h-1.0zM484.68,230.08h1.0v1.0h-1.0zM486.76,230.02h1.0v1.0h-1.0zM488.84,230.00h1.0v1.0h-1.0zM490.92,230.01h1.0v1.0h-1.0zM493.00,230.07h1.0v1.0h-1.0zM495.08,230.15h1.0v1.0h-1.0zM497.15,230.28h1.0v1.0h-1.0zM499.23,230.44h1.0v1.0h-1.0zM501.30,230.63h1.0v1.0h-1.0zM503.37,230.87h1.0v1.0h-1.0zM505.43,231.13h1.0v1.0h-1.0zM507.49,231.44h1.0v1.0h-1.0zM509.54,231.77h1.0v1.0h-1.0zM511.58,232.15h1.0v1.0h-1.0z"/>
<line x1="470.7" y1="227.3" x2="513.4" y2="228.2" stroke="#000" stroke-width="1.4"/>
<path fill="#000" d="M482.10,179.57h3.00l-1.50,-2.60zM480.60,183.87h3.00l-1.50,-2.60zM482.10,188.67h3.00l-1.50,-2.60zM500.10,183.17h3.00l-1.50,-2.60zM481.30,214.87h3.00l-1.50,-2.60zM482.50,215.17h3.00l-1.50,-2.60zM495.10,214.87h3.00l-1.50,-2.60zM494.00,219.57h3.00l-1.50,-2.60zM493.00,222.07h3.00l-1.50,-2.60zM481.30,222.67h3.00l-1.50,-2.60zM482.30,222.97h3.00l-1.50,-2.60zM501.00,225.27h3.00l-1.50,-2.60zM506.80,225.27h3.00l-1.50,-2.60zM511.20,225.47h3.00l-1.50,-2.60zM476.90,226.57h3.00l-1.50,-2.60zM470.00,228.17h3.00l-1.50,-2.60zM472.50,228.67h3.00l-1.50,-2.60zM475.50,228.17h3.00l-1.50,-2.60zM478.50,228.97h3.00l-1.50,-2.60zM481.50,229.17h3.00l-1.50,-2.60zM484.50,228.37h3.00l-1.50,-2.60zM491.50,228.77h3.00l-1.50,-2.60zM495.50,228.17h3.00l-1.50,-2.60zM498.50,229.17h3.00l-1.50,-2.60zM503.50,229.17h3.00l-1.50,-2.60zM480.70,232.87h3.00l-1.50,-2.60zM494.00,232.27h3.00l-1.50,-2.60zM497.90,232.87h3.00l-1.50,-2.60zM510.60,232.87h3.00l-1.50,-2.60zM483.50,232.97h3.00l-1.50,-2.60zM480.90,223.27h3.00l-1.50,-2.60zM508.10,230.57h3.00l-1.50,-2.60zM510.00,232.67h3.00l-1.50,-2.60zM493.50,232.47h3.00l-1.50,-2.60zM480.50,232.67h3.00l-1.50,-2.60zM473.50,234.67h3.00l-1.50,-2.60zM472.50,237.47h3.00l-1.50,-2.60zM479.50,237.47h3.00l-1.50,-2.60zM490.50,237.47h3.00l-1.50,-2.60zM494.00,237.17h3.00l-1.50,-2.60zM501.00,237.47h3.00l-1.50,-2.60zM508.00,237.47h3.00l-1.50,-2.60z"/>
<g stroke="#000" stroke-width="1.4" fill="none"><line x1="43.8" y1="326.10" x2="43.8" y2="394.10" /><line x1="41.599999999999994" y1="394.10" x2="43.8" y2="394.10" /><line x1="41.599999999999994" y1="377.10" x2="43.8" y2="377.10" /><line x1="41.599999999999994" y1="360.10" x2="43.8" y2="360.10" /><line x1="41.599999999999994" y1="343.10" x2="43.8" y2="343.10" /><line x1="41.599999999999994" y1="326.10" x2="43.8" y2="326.10" /><line x1="43.8" y1="377.1" x2="130.55" y2="377.1" /><line x1="73.05" y1="377.1" x2="73.05" y2="379.30" /><line x1="101.80" y1="377.1" x2="101.80" y2="379.30" /><line x1="130.55" y1="377.1" x2="130.55" y2="379.30" /><line x1="58.67" y1="377.1" x2="58.67" y2="378.40" /><line x1="87.42" y1="377.1" x2="87.42" y2="378.40" /><line x1="116.17" y1="377.1" x2="116.17" y2="378.40" /></g>
<text x="40.20" y="396.20" text-anchor="end" font-size="5.0" font-weight="bold">-5×10<tspan dy="-1.6" font-size="3">6</tspan></text><text x="40.20" y="379.20" text-anchor="end" font-size="5.0" font-weight="bold">0</text><text x="40.20" y="362.20" text-anchor="end" font-size="5.0" font-weight="bold">5×10<tspan dy="-1.6" font-size="3">6</tspan></text><text x="40.20" y="345.20" text-anchor="end" font-size="5.0" font-weight="bold">1×10<tspan dy="-1.6" font-size="3">7</tspan></text><text x="40.20" y="328.20" text-anchor="end" font-size="5.0" font-weight="bold">1.5×10<tspan dy="-1.6" font-size="3">7</tspan></text><text x="73.05" y="385.10" text-anchor="middle" font-size="5.0" font-weight="bold">1</text><text x="101.80" y="385.10" text-anchor="middle" font-size="5.0" font-weight="bold">2</text><text x="130.55" y="385.10" text-anchor="middle" font-size="5.0" font-weight="bold">3</text>
<text x="87.7" y="321.9" text-anchor="middle" font-size="6.6" font-weight="bold">PBMC</text>
<text transform="translate(10.1,360.0) rotate(-90)" text-anchor="middle" font-size="6.0" stroke="#000" stroke-width="0.3">HCV viral load</text>
<text transform="translate(17.0,360.0) rotate(-90)" text-anchor="middle" font-size="6.0" stroke="#000" stroke-width="0.3">(Log10 copie/mL)</text>
<text x="87.5" y="391.6" text-anchor="middle" font-size="5.6" font-weight="bold">IL-12</text>
<text x="87.5" y="398.5" text-anchor="middle" font-size="5.6" font-weight="bold">pg/mL</text>
<text x="131.6" y="362.0" font-size="5.7" font-weight="bold">R= -0.084</text>
<text x="131.6" y="368.9" font-size="5.7" font-weight="bold">P= 0.474</text>
<path fill="#3535ee" d="M43.80,366.20h1.0v1.0h-1.0zM45.88,366.26h1.0v1.0h-1.0zM47.96,366.32h1.0v1.0h-1.0zM50.04,366.38h1.0v1.0h-1.0zM52.12,366.43h1.0v1.0h-1.0zM54.20,366.46h1.0v1.0h-1.0zM56.28,366.50h1.0v1.0h-1.0zM58.36,366.53h1.0v1.0h-1.0zM60.44,366.56h1.0v1.0h-1.0zM62.52,366.57h1.0v1.0h-1.0zM64.60,366.59h1.0v1.0h-1.0zM66.68,366.59h1.0v1.0h-1.0zM68.76,366.59h1.0v1.0h-1.0zM70.84,366.59h1.0v1.0h-1.0zM72.92,366.57h1.0v1.0h-1.0zM75.00,366.56h1.0v1.0h-1.0zM77.08,366.53h1.0v1.0h-1.0zM79.16,366.50h1.0v1.0h-1.0zM81.23,366.47h1.0v1.0h-1.0zM83.31,366.43h1.0v1.0h-1.0zM85.39,366.38h1.0v1.0h-1.0zM87.47,366.33h1.0v1.0h-1.0zM89.55,366.27h1.0v1.0h-1.0zM91.63,366.20h1.0v1.0h-1.0zM93.71,366.13h1.0v1.0h-1.0zM95.79,366.06h1.0v1.0h-1.0zM97.87,365.97h1.0v1.0h-1.0zM99.95,365.89h1.0v1.0h-1.0zM102.02,365.79h1.0v1.0h-1.0zM104.10,365.69h1.0v1.0h-1.0zM106.18,365.58h1.0v1.0h-1.0zM108.26,365.47h1.0v1.0h-1.0zM110.33,365.35h1.0v1.0h-1.0zM112.41,365.23h1.0v1.0h-1.0zM114.48,365.10h1.0v1.0h-1.0zM116.56,364.97h1.0v1.0h-1.0zM118.63,364.82h1.0v1.0h-1.0zM120.71,364.68h1.0v1.0h-1.0zM122.78,364.52h1.0v1.0h-1.0z"/>
<path fill="#3535ee" d="M43.80,371.00h1.0v1.0h-1.0zM45.88,371.07h1.0v1.0h-1.0zM47.96,371.15h1.0v1.0h-1.0zM50.04,371.24h1.0v1.0h-1.0zM52.11,371.32h1.0v1.0h-1.0zM54.19,371.42h1.0v1.0h-1.0zM56.27,371.52h1.0v1.0h-1.0zM58.35,371.62h1.0v1.0h-1.0zM60.42,371.73h1.0v1.0h-1.0zM62.50,371.85h1.0v1.0h-1.0zM64.58,371.97h1.0v1.0h-1.0zM66.65,372.10h1.0v1.0h-1.0zM68.73,372.23h1.0v1.0h-1.0zM70.80,372.37h1.0v1.0h-1.0zM72.88,372.51h1.0v1.0h-1.0zM74.95,372.66h1.0v1.0h-1.0zM77.03,372.81h1.0v1.0h-1.0zM79.10,372.97h1.0v1.0h-1.0zM81.18,373.14h1.0v1.0h-1.0zM83.25,373.31h1.0v1.0h-1.0zM85.32,373.48h1.0v1.0h-1.0zM87.39,373.66h1.0v1.0h-1.0zM89.46,373.85h1.0v1.0h-1.0zM91.54,374.04h1.0v1.0h-1.0zM93.61,374.24h1.0v1.0h-1.0zM95.68,374.44h1.0v1.0h-1.0zM97.75,374.65h1.0v1.0h-1.0zM99.82,374.86h1.0v1.0h-1.0zM101.88,375.08h1.0v1.0h-1.0zM103.95,375.30h1.0v1.0h-1.0zM106.02,375.53h1.0v1.0h-1.0zM108.09,375.76h1.0v1.0h-1.0zM110.15,376.00h1.0v1.0h-1.0zM112.22,376.25h1.0v1.0h-1.0zM114.28,376.50h1.0v1.0h-1.0zM116.35,376.75h1.0v1.0h-1.0zM118.41,377.02h1.0v1.0h-1.0zM120.47,377.28h1.0v1.0h-1.0zM122.54,377.55h1.0v1.0h-1.0z"/>
<line x1="44.3" y1="369.1" x2="124.9" y2="372.2" stroke="#000" stroke-width="1.4"/>
<path fill="#000" d="M43.00,333.17h3.00l-1.50,-2.60zM43.00,336.17h3.00l-1.50,-2.60zM45.60,340.67h3.00l-1.50,-2.60zM57.40,360.67h3.00l-1.50,-2.60zM57.40,374.47h3.00l-1.50,-2.60zM60.10,369.17h3.00l-1.50,-2.60zM60.10,371.67h3.00l-1.50,-2.60zM60.10,374.67h3.00l-1.50,-2.60zM43.00,367.17h3.00l-1.50,-2.60zM43.00,370.17h3.00l-1.50,-2.60zM43.00,373.17h3.00l-1.50,-2.60zM44.50,369.17h3.00l-1.50,-2.60zM100.10,368.17h3.00l-1.50,-2.60zM100.10,371.17h3.00l-1.50,-2.60zM100.10,374.17h3.00l-1.50,-2.60zM100.10,376.67h3.00l-1.50,-2.60zM103.40,366.97h3.00l-1.50,-2.60zM103.40,373.87h3.00l-1.50,-2.60zM123.40,370.27h3.00l-1.50,-2.60zM123.40,376.67h3.00l-1.50,-2.60zM98.30,376.67h3.00l-1.50,-2.60zM94.50,377.67h3.00l-1.50,-2.60z"/>
<g stroke="#000" stroke-width="1.4" fill="none"><line x1="244.3" y1="328.50" x2="244.3" y2="399.10" /><line x1="242.10000000000002" y1="396.90" x2="244.3" y2="396.90" /><line x1="242.10000000000002" y1="374.10" x2="244.3" y2="374.10" /><line x1="242.10000000000002" y1="351.30" x2="244.3" y2="351.30" /><line x1="242.10000000000002" y1="328.50" x2="244.3" y2="328.50" /><line x1="242.10000000000002" y1="396.9" x2="330.05" y2="396.9" /><line x1="244.40" y1="396.9" x2="244.40" y2="399.10" /><line x1="272.95" y1="396.9" x2="272.95" y2="399.10" /><line x1="301.50" y1="396.9" x2="301.50" y2="399.10" /><line x1="330.05" y1="396.9" x2="330.05" y2="399.10" /><line x1="258.68" y1="396.9" x2="258.68" y2="398.20" /><line x1="287.23" y1="396.9" x2="287.23" y2="398.20" /><line x1="315.77" y1="396.9" x2="315.77" y2="398.20" /></g>
<text x="240.70" y="399.00" text-anchor="end" font-size="5.0" font-weight="bold">0</text><text x="240.70" y="376.20" text-anchor="end" font-size="5.0" font-weight="bold">5×10<tspan dy="-1.6" font-size="3">6</tspan></text><text x="240.70" y="353.40" text-anchor="end" font-size="5.0" font-weight="bold">1×10<tspan dy="-1.6" font-size="3">7</tspan></text><text x="240.70" y="330.60" text-anchor="end" font-size="5.0" font-weight="bold">1.5×10<tspan dy="-1.6" font-size="3">7</tspan></text><text x="244.40" y="404.90" text-anchor="middle" font-size="5.0" font-weight="bold">0</text><text x="272.95" y="404.90" text-anchor="middle" font-size="5.0" font-weight="bold">100</text><text x="301.50" y="404.90" text-anchor="middle" font-size="5.0" font-weight="bold">200</text><text x="330.05" y="404.90" text-anchor="middle" font-size="5.0" font-weight="bold">300</text>
<text x="287.5" y="324.7" text-anchor="middle" font-size="6.6" font-weight="bold">PBMC</text>
<text transform="translate(209.9,362.8) rotate(-90)" text-anchor="middle" font-size="6.0" stroke="#000" stroke-width="0.3">HCV viral load</text>
<text transform="translate(216.8,362.8) rotate(-90)" text-anchor="middle" font-size="6.0" stroke="#000" stroke-width="0.3">(Log10 copie/mL)</text>
<text x="287.3" y="411.7" text-anchor="middle" font-size="5.6" font-weight="bold">TNF-α</text>
<text x="287.3" y="418.3" text-anchor="middle" font-size="5.6" font-weight="bold">pg/mL</text>
<text x="332.9" y="384.7" font-size="5.7" font-weight="bold">R= -0,033</text>
<text x="332.9" y="391.5" font-size="5.7" font-weight="bold">P=  0. 775</text>
<path fill="#3535ee" d="M280.20,380.20h1.0v1.0h-1.0zM282.22,380.69h1.0v1.0h-1.0zM284.25,381.14h1.0v1.0h-1.0zM286.29,381.56h1.0v1.0h-1.0zM288.33,381.94h1.0v1.0h-1.0zM290.38,382.29h1.0v1.0h-1.0zM292.44,382.60h1.0v1.0h-1.0zM294.50,382.87h1.0v1.0h-1.0zM296.57,383.10h1.0v1.0h-1.0zM298.64,383.30h1.0v1.0h-1.0zM300.72,383.46h1.0v1.0h-1.0zM302.79,383.57h1.0v1.0h-1.0zM304.87,383.66h1.0v1.0h-1.0zM306.95,383.70h1.0v1.0h-1.0zM309.03,383.70h1.0v1.0h-1.0zM311.11,383.66h1.0v1.0h-1.0zM313.19,383.59h1.0v1.0h-1.0zM315.26,383.47h1.0v1.0h-1.0zM317.34,383.32h1.0v1.0h-1.0zM319.41,383.13h1.0v1.0h-1.0zM321.48,382.90h1.0v1.0h-1.0z"/>
<path fill="#3535ee" d="M280.20,392.20h1.0v1.0h-1.0zM282.23,391.75h1.0v1.0h-1.0zM284.27,391.35h1.0v1.0h-1.0zM286.32,390.98h1.0v1.0h-1.0zM288.37,390.67h1.0v1.0h-1.0zM290.44,390.39h1.0v1.0h-1.0zM292.50,390.16h1.0v1.0h-1.0zM294.58,389.98h1.0v1.0h-1.0zM296.65,389.85h1.0v1.0h-1.0zM298.73,389.76h1.0v1.0h-1.0zM300.81,389.72h1.0v1.0h-1.0zM302.89,389.72h1.0v1.0h-1.0zM304.97,389.77h1.0v1.0h-1.0zM307.05,389.87h1.0v1.0h-1.0zM309.12,390.02h1.0v1.0h-1.0zM311.19,390.21h1.0v1.0h-1.0zM313.26,390.44h1.0v1.0h-1.0zM315.32,390.72h1.0v1.0h-1.0zM317.37,391.05h1.0v1.0h-1.0zM319.42,391.42h1.0v1.0h-1.0zM321.46,391.84h1.0v1.0h-1.0z"/>
<line x1="280.7" y1="386.6" x2="323.6" y2="387.8" stroke="#000" stroke-width="1.4"/>
<path fill="#000" d="M295.20,339.07h3.00l-1.50,-2.60zM294.00,343.57h3.00l-1.50,-2.60zM300.20,343.07h3.00l-1.50,-2.60zM296.50,348.17h3.00l-1.50,-2.60zM284.50,374.97h3.00l-1.50,-2.60zM306.90,375.37h3.00l-1.50,-2.60zM316.30,375.37h3.00l-1.50,-2.60zM321.30,374.47h3.00l-1.50,-2.60zM310.90,379.87h3.00l-1.50,-2.60zM296.50,382.37h3.00l-1.50,-2.60zM316.30,383.17h3.00l-1.50,-2.60zM321.30,383.67h3.00l-1.50,-2.60zM306.80,384.87h3.00l-1.50,-2.60zM280.00,388.17h3.00l-1.50,-2.60zM283.30,388.97h3.00l-1.50,-2.60zM288.30,388.17h3.00l-1.50,-2.60zM294.90,388.17h3.00l-1.50,-2.60zM307.30,388.17h3.00l-1.50,-2.60zM294.00,393.07h3.00l-1.50,-2.60zM296.50,392.67h3.00l-1.50,-2.60zM312.50,393.07h3.00l-1.50,-2.60zM316.30,393.07h3.00l-1.50,-2.60zM279.20,393.07h3.00l-1.50,-2.60zM284.00,389.47h3.00l-1.50,-2.60zM288.70,389.07h3.00l-1.50,-2.60zM294.40,383.87h3.00l-1.50,-2.60zM294.80,385.77h3.00l-1.50,-2.60zM284.00,392.87h3.00l-1.50,-2.60zM295.30,392.87h3.00l-1.50,-2.60zM306.60,385.77h3.00l-1.50,-2.60zM312.30,386.67h3.00l-1.50,-2.60zM316.10,389.07h3.00l-1.50,-2.60zM320.90,389.07h3.00l-1.50,-2.60zM307.60,391.87h3.00l-1.50,-2.60zM313.30,392.37h3.00l-1.50,-2.60zM280.20,394.67h3.00l-1.50,-2.60zM280.00,397.67h3.00l-1.50,-2.60zM284.00,397.67h3.00l-1.50,-2.60zM294.90,397.67h3.00l-1.50,-2.60zM308.00,397.67h3.00l-1.50,-2.60zM311.50,397.67h3.00l-1.50,-2.60zM316.30,397.67h3.00l-1.50,-2.60zM321.30,397.67h3.00l-1.50,-2.60z"/>
</svg>
</body></html>
